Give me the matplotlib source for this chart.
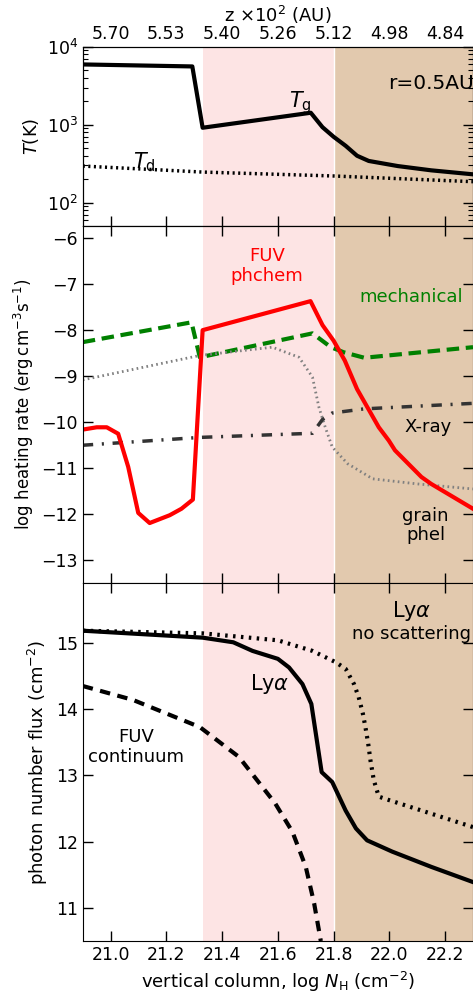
import numpy as np
import matplotlib
matplotlib.use("Agg")
import matplotlib.pyplot as plt

plt.rcParams['font.family'] = ['DejaVu Sans']
plt.rcParams['font.size'] = 12.5
plt.rcParams['mathtext.fontset'] = 'dejavusans'

# layer boundaries in log N_H
nh_fuv = 21.33
nh_xray = 21.8

# temperatures
nh_tg = [20.9, 21.293, 21.33, 21.718, 21.76, 21.80, 21.843, 21.884, 21.926, 22.03, 22.15, 22.3]
tg = [5940, 5600, 915, 1425, 930, 700, 537, 400, 343, 295, 260, 231]
nh_td = [20.9, 21.33, 21.8, 22.3]
td = [295, 247, 220, 186]

# heating rates (log)
nh_fuvh = [20.9, 20.95, 20.986, 21.027, 21.063, 21.099, 21.14, 21.212, 21.254, 21.295,
           21.33, 21.717, 21.76, 21.80, 21.84, 21.884, 21.962, 21.998, 22.02, 22.115, 22.15, 22.3]
fuvh = [-10.16, -10.11, -10.11, -10.25, -10.97, -11.97, -12.19, -12.02, -11.88, -11.68,
        -8.0, -7.37, -7.89, -8.23, -8.66, -9.28, -10.11, -10.40, -10.61, -11.19, -11.34, -11.88]
nh_mech = [20.9, 21.29, 21.32, 21.724, 21.79, 21.836, 21.91, 22.3]
mech = [-8.26, -7.83, -8.59, -8.07, -8.37, -8.48, -8.60, -8.37]
nh_gph = [20.9, 21.32, 21.58, 21.676, 21.724, 21.747, 21.77, 21.795, 21.85, 21.94, 22.1, 22.3]
gph = [-9.08, -8.55, -8.37, -8.59, -9.02, -9.67, -10.11, -10.54, -10.9, -11.23, -11.34, -11.45]
nh_xr = [20.9, 21.32, 21.724, 21.76, 21.795, 21.91, 22.3]
xr = [-10.5, -10.33, -10.24, -9.94, -9.80, -9.71, -9.59]

# photon fluxes (log)
nh_lya = [20.9, 21.33, 21.44, 21.509, 21.6, 21.64, 21.688, 21.72, 21.757, 21.795,
          21.843, 21.88, 21.92, 22.01, 22.15, 22.3]
lya = [15.185, 15.08, 15.01, 14.88, 14.76, 14.63, 14.38, 14.08, 13.05, 12.90,
       12.47, 12.20, 12.02, 11.85, 11.62, 11.39]
nh_lyans = [20.9, 21.33, 21.6, 21.724, 21.807, 21.843, 21.873, 21.89, 21.905, 21.914,
            21.924, 21.932, 21.944, 21.962, 21.997, 22.3]
lyans = [15.185, 15.145, 15.04, 14.88, 14.71, 14.61, 14.38, 14.18, 13.93, 13.73,
         13.48, 13.23, 12.93, 12.68, 12.63, 12.22]
nh_fuvc = [20.9, 21.08, 21.32, 21.46, 21.59, 21.652, 21.70, 21.73, 21.754]
fuvc = [14.35, 14.14, 13.73, 13.28, 12.58, 12.15, 11.62, 11.07, 10.5]

# top axis: height z at the same column ticks
nh_ticks = [21.0, 21.2, 21.4, 21.6, 21.8, 22.0, 22.2]
z_labels = ['5.70', '5.53', '5.40', '5.26', '5.12', '4.98', '4.84']

pink = '#fde4e4'
tan = '#e2c9ae'

fig = plt.figure(figsize=(4.73, 9.96), dpi=100)
gs = fig.add_gridspec(3, 1, height_ratios=[1, 2, 2], hspace=0,
                      left=0.175, right=1.0, top=0.953, bottom=0.0552)
ax1 = fig.add_subplot(gs[0])
ax2 = fig.add_subplot(gs[1], sharex=ax1)
ax3 = fig.add_subplot(gs[2], sharex=ax1)

for ax in (ax1, ax2, ax3):
    ax.axvspan(nh_fuv, nh_xray, color=pink, lw=0, zorder=0)
    ax.axvspan(nh_xray, 22.3, color=tan, lw=0, zorder=0)
    ax.axvline(nh_xray, color='white', lw=1, zorder=0.5)
    ax.tick_params(which='both', direction='in', top=True, right=True)
    ax.tick_params(which='major', length=7, width=1)
    ax.tick_params(which='minor', length=3.5, width=0.8)
    ax.set_xlim(20.9, 22.3)
    ax.set_xticks(nh_ticks)

# temperature panel
ax1.semilogy(nh_tg, tg, color='k', lw=3)
ax1.semilogy(nh_td, td, color='k', lw=2.5, ls=(0, (0.6, 1.0)))
ax1.set_ylim(50.7, 1e4)
ax1.set_ylabel('$T$(K)', fontsize=13)
ax1.text(21.68, 1900, r'$T_{\rm g}$', fontsize=15, ha='center', va='center')
ax1.text(21.12, 330, r'$T_{\rm d}$', fontsize=15, ha='center', va='center')
ax1.text(22.15, 3350, 'r=0.5AU', fontsize=14.5, ha='center', va='center')
plt.setp(ax1.get_xticklabels(), visible=False)

top = ax1.twiny()
top.set_xlim(ax1.get_xlim())
top.set_xticks(nh_ticks)
top.set_xticklabels(z_labels)
top.tick_params(direction='in', length=0, pad=3)
top.set_xlabel(r'z $\times$10$^2$ (AU)', fontsize=13, labelpad=2)

# heating panel
ax2.plot(nh_mech, mech, color='green', lw=3, ls=(0, (3, 1.6)))
ax2.plot(nh_gph, gph, color='grey', lw=2, ls=(0, (0.6, 1.2)))
ax2.plot(nh_xr, xr, color='#333333', lw=2.5, ls=(0, (3, 2.5, 0.6, 2.5)))
ax2.plot(nh_fuvh, fuvh, color='red', lw=3)
ax2.set_ylim(-13.5, -5.73)
ax2.set_yticks(range(-13, -5))
ax2.set_ylabel(r'log heating rate (erg$\,$cm$^{-3}$s$^{-1}$)', fontsize=12)
ax2.text(21.56, -6.61, 'FUV\nphchem', color='red', fontsize=13,
         ha='center', va='center', linespacing=1.1)
ax2.text(22.08, -7.29, 'mechanical', color='green', fontsize=13, ha='center', va='center')
ax2.text(22.14, -10.1, 'X-ray', fontsize=13, ha='center', va='center')
ax2.text(22.13, -12.24, 'grain\nphel', fontsize=13, ha='center', va='center',
         linespacing=1.1)
plt.setp(ax2.get_xticklabels(), visible=False)

# photon flux panel
ax3.plot(nh_lyans, lyans, color='k', lw=3, ls=(0, (0.6, 1.3)))
ax3.plot(nh_fuvc, fuvc, color='k', lw=3, ls=(0, (2.5, 1.8)))
ax3.plot(nh_lya, lya, color='k', lw=3)
ax3.set_ylim(10.5, 15.9)
ax3.set_yticks([11, 12, 13, 14, 15])
ax3.set_ylabel('photon number flux (cm$^{-2}$)', fontsize=13)
ax3.set_xlabel(r'vertical column, log $N_{\rm H}$ (cm$^{-2}$)', fontsize=13)
ax3.text(21.57, 14.38, r'Ly$\alpha$', fontsize=15, ha='center', va='center')
ax3.text(22.08, 15.48, r'Ly$\alpha$', fontsize=15, ha='center', va='center')
ax3.text(22.08, 15.13, 'no scattering', fontsize=13, ha='center', va='center')
ax3.text(21.09, 13.43, 'FUV\ncontinuum', fontsize=13, ha='center', va='center',
         linespacing=1.1)

fig.savefig('out.png', dpi=100)
